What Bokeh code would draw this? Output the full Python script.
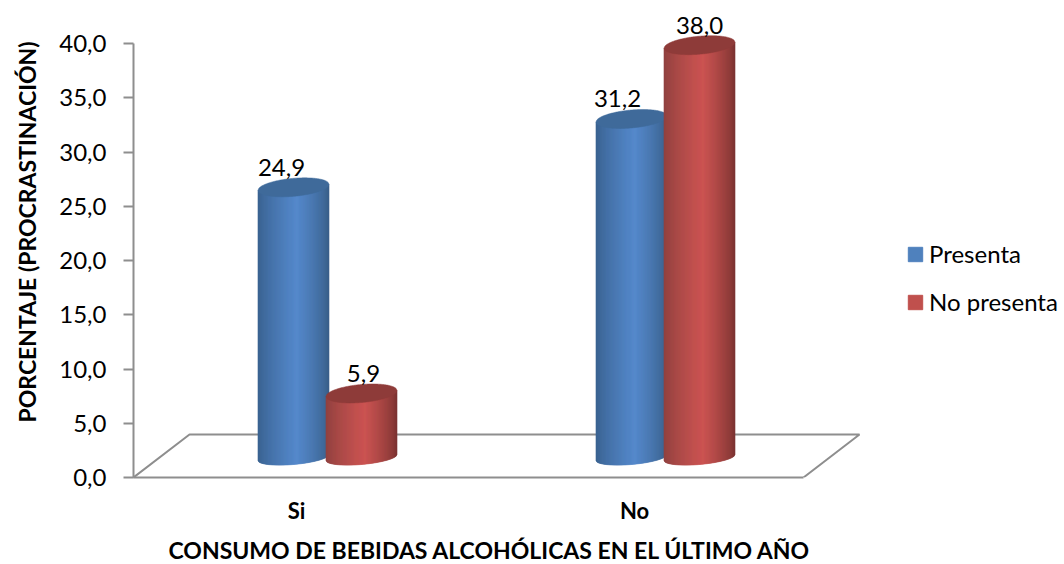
from math import sqrt
from bokeh.plotting import figure
from bokeh.models import Range1d, ColumnDataSource, Title, Legend, LegendItem, FixedTicker
from bokeh.core.properties import value
from bokeh.embed import file_html
from bokeh.resources import INLINE

categories = ["Si", "No"]
series_names = ["Presenta", "No presenta"]
presenta = [24.9, 31.2]
no_presenta = [5.9, 38.0]
y_ticks = [0, 5, 10, 15, 20, 25, 30, 35, 40]
y_title = "PORCENTAJE (PROCRASTINACIÓN)"
x_title = "CONSUMO DE BEBIDAS ALCOHÓLICAS EN EL ÚLTIMO AÑO"

FONT = "Lato"
W, H = 1064, 564
ML, MB = 133, 87
PX_Y = 10.85       # pixels per percentage point
PX_X = 338.0       # pixels per category
X0 = (296 - ML) / PX_X   # category 0 from frame left
FRAME_W = W - ML
FRAME_H = H - MB

def dx(px):
    return px / PX_X
def dy(px):
    return px / PX_Y

p = figure(width=W, height=H, output_backend="svg", toolbar_location=None,
           x_range=Range1d(-X0, FRAME_W / PX_X - X0),
           y_range=Range1d(0, FRAME_H / PX_Y),
           min_border_left=ML, min_border_right=0, min_border_top=0, min_border_bottom=MB,
           outline_line_color=None, background_fill_color="white")
p.grid.visible = False

AXIS = "#8E8E8E"
ax_y = p.yaxis[0]
ax_y.ticker = FixedTicker(ticks=y_ticks)
ax_y.major_label_overrides = {t: f"{t:.1f}".replace(".", ",") for t in y_ticks}
ax_y.bounds = (0, 40)
ax_y.axis_line_color = AXIS
ax_y.axis_line_width = 2
ax_y.major_tick_line_color = AXIS
ax_y.major_tick_line_width = 2
ax_y.major_tick_out = 10
ax_y.major_tick_in = 0
ax_y.minor_tick_line_color = None
ax_y.major_label_text_font = FONT
ax_y.major_label_text_font_size = "24px"
ax_y.major_label_text_color = "black"
ax_y.major_label_standoff = 17
ax_y.axis_label = " "
ax_y.axis_label_text_font_size = "1px"
ax_y.axis_label_standoff = 4

ax_x = p.xaxis[0]
ax_x.ticker = FixedTicker(ticks=[0, 1])
ax_x.major_label_overrides = {i: c for i, c in enumerate(categories)}
ax_x.bounds = (-X0, dx(803 - 296))
ax_x.axis_line_color = AXIS
ax_x.axis_line_width = 2
ax_x.major_tick_line_color = None
ax_x.minor_tick_line_color = None
ax_x.major_tick_out = 0
ax_x.major_tick_in = 0
ax_x.major_label_text_font = FONT
ax_x.major_label_text_font_style = "bold"
ax_x.major_label_text_font_size = "22px"
ax_x.major_label_text_color = "black"
ax_x.major_label_standoff = 19
ax_x.axis_label = " "
ax_x.axis_label_text_font_size = "1px"
ax_x.axis_label_standoff = 3

# floor of the 3D box
depth_x, depth_y = dx(56), dy(43)
fx_l, fx_r = -X0, dx(803 - 296)
p.line([fx_l, fx_l + depth_x, fx_r + depth_x, fx_r],
       [0, depth_y, depth_y, 0], line_color=AXIS, line_width=2)

def hex2rgb(h):
    return tuple(int(h[i:i + 2], 16) for i in (1, 3, 5))

def grad(u, left, mid, right, umid=0.1):
    a, b = hex2rgb(left), hex2rgb(mid)
    if u > umid:
        a = hex2rgb(right)
        t = (1 - u) / (1 - umid)
    else:
        t = (u + 1) / (1 + umid)
    t = t ** 0.75
    return "#%02x%02x%02x" % tuple(round(a[i] + (b[i] - a[i]) * t) for i in range(3))

A_PX, B_PX, B_BOT_PX, TILT_PX, BASE_PX = 35.5, 9.0, 7.0, 3.0, 20.0
STRIPS = 71

def cylinder(cx, val, left, mid, right, top):
    a, b, bb, tilt, base = dx(A_PX), dy(B_PX), dy(B_BOT_PX), dy(TILT_PX), dy(BASE_PX)
    xs, ys, cols = [], [], []
    for i in range(STRIPS):
        u0 = -1 + 2 * i / STRIPS
        u1 = -1 + 2 * (i + 1) / STRIPS
        def bot(u):
            return base - bb * sqrt(max(0, 1 - u * u)) + tilt * u
        def upp(u):
            return base + val + tilt * u
        xs.append([cx + a * u0, cx + a * u1, cx + a * u1, cx + a * u0])
        ys.append([bot(u0), bot(u1), upp(u1), upp(u0)])
        cols.append(grad((u0 + u1) / 2, left, mid, right))
    p.patches(xs, ys, fill_color=cols, line_color=cols, line_width=0.6)
    ex, ey = [], []
    for k in range(81):
        u = -1 + 2 * k / 80
        ex.append(cx + a * u)
        ey.append(base + val + tilt * u - b * sqrt(max(0, 1 - u * u)))
    for k in range(81):
        u = 1 - 2 * k / 80
        ex.append(cx + a * u)
        ey.append(base + val + tilt * u + b * sqrt(max(0, 1 - u * u)))
    p.patch(ex, ey, fill_color=top, line_color=top, line_width=0.5)

BLUE = ("#38608E", "#5589CC", "#385E88", "#3F6A9A")
RED = ("#8E403E", "#CC5452", "#7A3331", "#8E3B39")
for g in range(len(categories)):
    cylinder(g + dx(-3), presenta[g], *BLUE)
    cylinder(g + dx(65), no_presenta[g], *RED)

# data labels
lab_x, lab_y, lab_t, lab_off = [], [], [], []
offs = [[-12, 2], [-14, 0]]
for g in range(len(categories)):
    for s, (vals, c) in enumerate(((presenta, -3), (no_presenta, 65))):
        lab_x.append(g + dx(c))
        lab_y.append(dy(BASE_PX) + vals[g])
        lab_t.append(f"{vals[g]:.1f}".replace(".", ","))
        lab_off.append(offs[g][s])
src = ColumnDataSource(dict(x=lab_x, y=lab_y, t=lab_t, o=lab_off))
p.text("x", "y", text="t", x_offset="o", y_offset=-20, source=src, text_align="center",
       text_baseline="middle", text_font=value(FONT), text_font_size="24px", text_color="black")

# legend (swatches come from off-range bars)
r1 = p.vbar(x=[-50], top=[1], width=0.1, fill_color="#4F81BD", line_color="#4F81BD")
r2 = p.vbar(x=[-50], top=[1], width=0.1, fill_color="#C0504D", line_color="#C0504D")
leg = Legend(items=[LegendItem(label=series_names[0], renderers=[r1]),
                    LegendItem(label=series_names[1], renderers=[r2])],
             location=(773, 161), orientation="vertical",
             border_line_color=None, background_fill_alpha=0,
             label_text_font=FONT, label_text_font_size="24px", label_text_color="black",
             glyph_width=18, glyph_height=18, spacing=19, margin=0, padding=0,
             label_standoff=5)
p.add_layout(leg, "center")

# axis titles
p.add_layout(Title(text=x_title, align="left", offset=168 - ML, standoff=0, text_font=FONT,
                   text_font_style="bold", text_font_size="23px", text_color="black"), "below")
p.add_layout(Title(text=y_title, align="left", offset=477 - 422, standoff=11, text_font=FONT,
                   vertical_align="top",
                   text_font_style="bold", text_font_size="23px", text_color="black"), "left")

open("out.html", "w").write(file_html(p, INLINE))
